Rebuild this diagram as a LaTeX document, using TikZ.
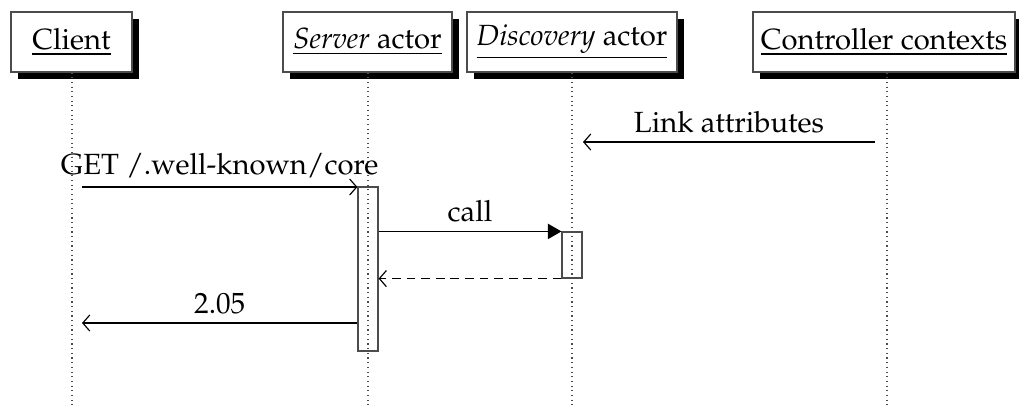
\documentclass[tikz,border=0pt]{standalone}
\usepackage[T1]{fontenc}
\usepackage{mathpazo}
\usetikzlibrary{shadows,arrows.meta}
\begin{document}
\begin{tikzpicture}[x=0.3425pt,y=-0.3425pt,
  inst/.style={draw=black!70, fill=white, line width=0.4pt, minimum height=20.5pt, inner sep=0pt,
    drop shadow={shadow xshift=2.4pt, shadow yshift=-2.4pt, fill=black, opacity=1}},
  act/.style={draw=black!70, line width=0.4pt, minimum width=6.85pt, inner sep=0pt},
  life/.style={draw=black!70, line width=0.4pt, dash pattern=on 0.4pt off 1.2pt},
  msg/.style={draw=black, line width=0.4pt, -{Straight Barb[length=2.4pt,width=5.5pt]}},
  callmsg/.style={draw=black, line width=0.4pt, -{Triangle[length=4.6pt,width=5.2pt]}},
  retmsg/.style={msg, dash pattern=on 3pt off 2pt},
  lbl/.style={above, inner sep=3pt, font=\normalsize}
]
\useasboundingbox (0,0) rectangle (1019,408);

% instances
\node[inst, minimum width=41.4pt] (client) at (71.5,42) {\underline{Client}};
\node[inst, minimum width=57.9pt] (server) at (367.5,42) {\underline{\textit{Server} actor}};
\node[inst, minimum width=71.9pt] (disc) at (572,42) {\underline{\textit{Discovery} actor}};
\node[inst, minimum width=89.7pt] (ctrl) at (884,42) {\underline{Controller contexts}};

% activations
\node[act, minimum height=56.2pt] (sact) at (368,269) {};
\node[act, minimum height=15.75pt] (dact) at (572,255) {};

% lifeline ends
\coordinate (clientEnd) at (72,408);
\coordinate (serverEnd) at (368,408);
\coordinate (discEnd) at (572,408);
\coordinate (ctrlEnd) at (887,408);

\draw[life] (client.south -| clientEnd) -- (clientEnd);
\draw[life] (server.south -| serverEnd) -- (serverEnd);
\draw[life] (disc.south -| discEnd) -- (discEnd);
\draw[life] (ctrl.south -| ctrlEnd) -- (ctrlEnd);

% message end points
\coordinate (linkStart) at (875,142);
\coordinate (linkEnd) at (583,142);
\coordinate (getStart) at (82,187);
\coordinate (retEnd) at (82,323);

\draw[msg] (linkStart) -- node[lbl] {Link attributes} (linkEnd);
\draw[msg] (getStart) -- node[lbl] {GET /.well-known/core} (getStart -| sact.west);
\draw[callmsg] (dact.north west -| sact.east) -- node[lbl] {call} (dact.north west);
\draw[retmsg] (dact.south west) -- (dact.south west -| sact.east);
\draw[msg] (retEnd -| sact.west) -- node[lbl] {2.05} (retEnd);
\end{tikzpicture}
\end{document}
